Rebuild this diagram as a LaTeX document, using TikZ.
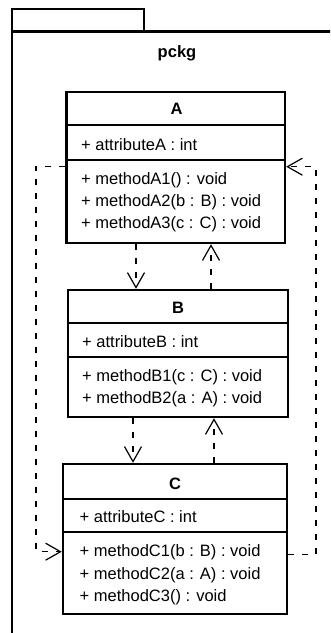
\documentclass[tikz,border=0pt]{standalone}
\usepackage{fontspec}
\setmainfont{Liberation Sans}
\usetikzlibrary{arrows.meta}

\tikzset{
  classbox/.style={draw=black, line width=2.4pt, fill=white, rectangle, inner sep=0pt},
  sepline/.style={line width=1.1pt},
  pkgline/.style={line width=2.4pt},
  member/.style={anchor=base west, inner sep=0pt, font=\fontsize{16.5}{20}\selectfont},
  ctitle/.style={anchor=base, inner sep=0pt, font=\fontsize{16.5}{20}\selectfont\bfseries},
  dep/.style={line width=1.2pt, dash pattern=on 6pt off 8pt,
    -{Straight Barb[length=15pt,width=17pt]}}
}

\begin{document}
\begin{tikzpicture}[x=1pt,y=-1pt]
  \useasboundingbox (0,0) rectangle (330,633);
  \clip (0,0) rectangle (330,633);

  % package frame with its tab
  \draw[pkgline] (12,31.5) rectangle (144,9);
  \draw[pkgline] (345,31.5) -- (12,31.5) -- (12,650);
  \node[ctitle] (pckg) at (177,57) {pckg};

  % class A
  \node[classbox, minimum width=218.5pt, minimum height=151pt] (A) at (175.75,167.5) {};
  \draw[sepline] (A.west |- 0,125) -- (A.east |- 0,125);
  \draw[sepline] (A.west |- 0,160) -- (A.east |- 0,160);
  \node[ctitle] (Atitle) at (176.5,114.4) {A};
  \node[member] (Aattr) at (81,150.8) {+ attributeA : int};
  \node[member] (Am1) at (81,184) {+ methodA1() : void};
  \node[member] (Am2) at (81,206.3) {+ methodA2(b : B) : void};
  \node[member] (Am3) at (81,228.6) {+ methodA3(c : C) : void};

  % class B
  \node[classbox, minimum width=220.3pt, minimum height=127pt] (B) at (177.85,353.5) {};
  \draw[sepline] (B.west |- 0,323) -- (B.east |- 0,323);
  \draw[sepline] (B.west |- 0,357) -- (B.east |- 0,357);
  \node[ctitle] (Btitle) at (178,313) {B};
  \node[member] (Battr) at (82,347.5) {+ attributeB : int};
  \node[member] (Bm1) at (82,381.8) {+ methodB1(c : C) : void};
  \node[member] (Bm2) at (82,403.3) {+ methodB2(a : A) : void};

  % class C
  \node[classbox, minimum width=224pt, minimum height=150pt] (C) at (175,539) {};
  \draw[sepline] (C.west |- 0,499) -- (C.east |- 0,499);
  \draw[sepline] (C.west |- 0,532) -- (C.east |- 0,532);
  \node[ctitle] (Ctitle) at (175,489) {C};
  \node[member] (Cattr) at (79.5,522.8) {+ attributeC : int};
  \node[member] (Cm1) at (79.5,556.8) {+ methodC1(b : B) : void};
  \node[member] (Cm2) at (79.5,579) {+ methodC2(a : A) : void};
  \node[member] (Cm3) at (79.5,601.2) {+ methodC3() : void};

  % dependencies between neighbouring classes
  \draw[dep] (A.south -| 136,0) -- (B.north -| 136,0);
  \draw[dep] (B.north -| 211,0) -- (A.south -| 211,0);
  \draw[dep] (B.south -| 133,0) -- (C.north -| 133,0);
  \draw[dep] (C.north -| 214,0) -- (B.south -| 214,0);

  % dependencies between A and C around the outside
  \draw[dep] (A.west |- 0,166.7) -- (36,166.7) -- (36,551.7) -- (C.west |- 0,551.7);
  \draw[dep] (C.east |- 0,554.3) -- (316,554.3) -- (316,166.7) -- (A.east |- 0,166.7);
\end{tikzpicture}
\end{document}
